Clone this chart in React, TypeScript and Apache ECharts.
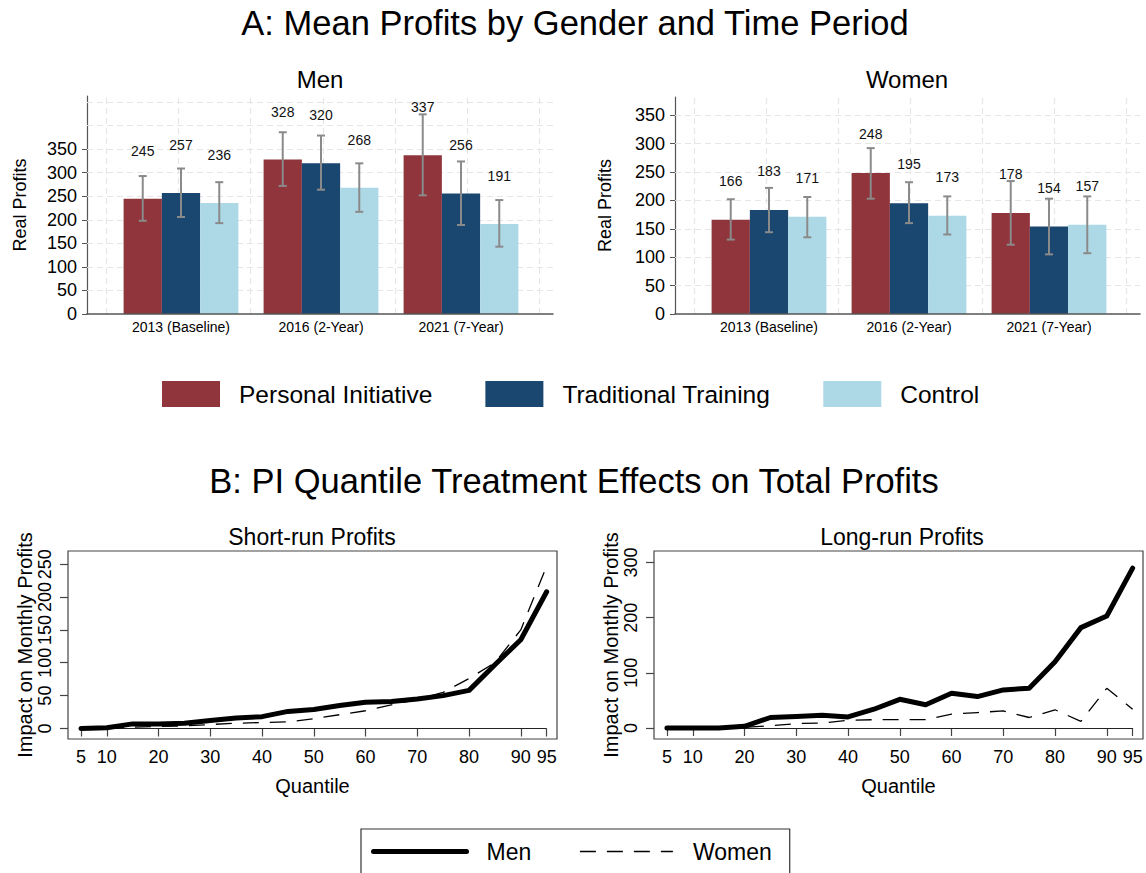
import { useEffect, useRef } from 'react';
import * as echarts from 'echarts';

const FONT = '"Liberation Sans", Arial, Helvetica, sans-serif';

// ---- Panel A data ----
const periods = ['2013 (Baseline)', '2016 (2-Year)', '2021 (7-Year)'];
const groups = ['Personal Initiative', 'Traditional Training', 'Control'];
const groupColors = ['#90353B', '#1A476F', '#ADD8E6'];

const menPI = [245, 328, 337];
const menTT = [257, 320, 256];
const menCtrl = [236, 268, 191];
const menPICI = [[198, 293], [272, 386], [252, 424]];
const menTTCI = [[206, 309], [264, 379], [189, 324]];
const menCtrlCI = [[193, 280], [217, 320], [143, 242]];

const womenPI = [166, 248, 178];
const womenTT = [183, 195, 154];
const womenCtrl = [171, 173, 157];
const womenPICI = [[131, 202], [203, 292], [122, 234]];
const womenTTCI = [[144, 222], [160, 232], [105, 203]];
const womenCtrlCI = [[135, 206], [140, 207], [107, 207]];

const barTicks = [0, 50, 100, 150, 200, 250, 300, 350];
const menGridLines = [50, 100, 150, 200, 250, 300, 350, 400, 450];
const womenGridLines = [50, 100, 150, 200, 250, 300, 350];
const vGridPct = [4.1, 19.6, 35.1, 50.6, 66.1, 81.6, 97.1];

// ---- Panel B data ----
const quantiles = [5, 10, 15, 20, 25, 30, 35, 40, 45, 50, 55, 60, 65, 70, 75, 80, 85, 90, 95];
const shortMen = [0, 1, 7, 7, 8, 12, 16, 18, 26, 29, 35, 40, 41, 45, 50, 58, 97, 135, 208];
const shortWomen = [0, 0, 2, 3, 4, 6, 8, 9, 10, 15, 21, 27, 36, 44, 55, 76, 100, 150, 247];
const longMen = [0, 0, 0, 3, 19, 21, 23, 20, 34, 52, 42, 63, 57, 69, 72, 120, 182, 203, 290];
const longWomen = [0, 0, 0, 1, 4, 8, 9, 14, 15, 15, 15, 25, 28, 31, 19, 33, 12, 72, 34];
const xTickValues = [5, 10, 20, 30, 40, 50, 60, 70, 80, 90, 95];
const shortTicks = [0, 50, 100, 150, 200, 250];
const longTicks = [0, 100, 200, 300];

const BAR_CAT_GAP = 0.18;

function errSeries(name: string, ci: number[][], gi: number, axisIdx: number) {
  return {
    type: 'custom',
    name,
    xAxisIndex: axisIdx,
    yAxisIndex: axisIdx,
    z: 5,
    silent: true,
    data: ci.map((c, i) => [i, c[0], c[1]]),
    encode: { x: 0, y: [1, 2] },
    renderItem: (params: any, api: any) => {
      const i = api.value(0);
      const lo = api.coord([i, api.value(1)]);
      const hi = api.coord([i, api.value(2)]);
      const band = api.size([1, 0])[0];
      const bw = (band * (1 - BAR_CAT_GAP)) / 3;
      const x = lo[0] + (gi - 1) * bw;
      const cap = 4;
      const style = { stroke: '#8a8a8a', lineWidth: 2 };
      return {
        type: 'group',
        children: [
          { type: 'line', shape: { x1: x, y1: lo[1], x2: x, y2: hi[1] }, style },
          { type: 'line', shape: { x1: x - cap, y1: hi[1], x2: x + cap, y2: hi[1] }, style },
          { type: 'line', shape: { x1: x - cap, y1: lo[1], x2: x + cap, y2: lo[1] }, style },
        ],
      };
    },
  };
}

function barSeries(name: string, data: number[], color: string, axisIdx: number, dist: number) {
  return {
    type: 'bar',
    name,
    xAxisIndex: axisIdx,
    yAxisIndex: axisIdx,
    data,
    barGap: '0%',
    barCategoryGap: '18%',
    z: 2,
    itemStyle: { color },
    label: {
      show: true,
      position: 'top',
      distance: dist,
      fontSize: 14,
      color: '#111',
      fontFamily: FONT,
    },
  };
}

function decoSeries(axisIdx: number, hLines: number[]) {
  return {
    type: 'line',
    xAxisIndex: axisIdx,
    yAxisIndex: axisIdx,
    data: [],
    silent: true,
    markLine: {
      z: 1,
      silent: true,
      symbol: ['none', 'none'],
      label: { show: false },
      lineStyle: { color: '#e6e6e6', type: [6, 4], width: 1.2 },
      data: [...hLines.map((v) => ({ yAxis: v })), ...vGridPct.map((v) => ({ xAxis: v }))],
    },
  };
}

function lineSeries(name: string, xs: number[], ys: number[], axisIdx: number, thick: boolean, zero: boolean) {
  const s: any = {
    type: 'line',
    name,
    xAxisIndex: axisIdx,
    yAxisIndex: axisIdx,
    data: xs.map((q, i) => [q, ys[i]]),
    symbol: 'none',
    showSymbol: false,
    z: 3,
    itemStyle: { color: '#000' },
    lineStyle: thick
      ? { color: '#000', width: 5, cap: 'round', join: 'round' }
      : { color: '#000', width: 1.3, type: [16, 11] },
  };
  if (zero) {
    s.markLine = {
      z: 1,
      silent: true,
      symbol: ['none', 'none'],
      label: { show: false },
      lineStyle: { color: '#222', width: 1.2, type: 'solid' },
      data: [[{ coord: [5, 0] }, { coord: [95, 0] }]],
    };
  }
  return s;
}

function decoYAxis(gridIndex: number, max: number, nameGap: number) {
  return {
    type: 'value',
    gridIndex,
    min: 0,
    max,
    axisLine: { show: true, lineStyle: { color: '#555', width: 1.2 } },
    axisTick: { show: true, length: 5, customValues: barTicks, lineStyle: { color: '#555' } },
    axisLabel: { customValues: barTicks, fontSize: 18, color: '#000', margin: 10, fontFamily: FONT },
    splitLine: { show: false },
    name: 'Real Profits',
    nameLocation: 'middle',
    nameGap,
    nameTextStyle: { fontSize: 18, color: '#000', fontFamily: FONT },
  };
}

function decoXAxis(gridIndex: number) {
  return {
    type: 'value',
    gridIndex,
    min: 0,
    max: 100,
    z: 10,
    axisLine: { show: true, onZero: false, lineStyle: { color: '#555', width: 1.5 } },
    axisTick: { show: false },
    axisLabel: { show: false },
    splitLine: { show: false },
  };
}

function catXAxis(gridIndex: number) {
  return {
    type: 'category',
    gridIndex,
    data: periods,
    axisLine: { show: false },
    axisTick: { show: false },
    axisLabel: { fontSize: 14, color: '#000', margin: 6, fontFamily: FONT },
  };
}

function hiddenY(gridIndex: number, max: number) {
  return { type: 'value', gridIndex, min: 0, max, show: false };
}

function qXAxis(gridIndex: number) {
  return {
    type: 'value',
    gridIndex,
    min: 2.5,
    max: 97,
    axisLine: { show: false },
    axisTick: { show: true, length: 8, customValues: xTickValues, lineStyle: { color: '#444', width: 1.2 } },
    axisLabel: { customValues: xTickValues, fontSize: 18, color: '#000', margin: 9, fontFamily: FONT },
    splitLine: { show: false },
    name: 'Quantile',
    nameLocation: 'middle',
    nameGap: 37,
    nameTextStyle: { fontSize: 20, color: '#000', fontFamily: FONT },
  };
}

function qYAxis(gridIndex: number, min: number, max: number, ticks: number[]) {
  return {
    type: 'value',
    gridIndex,
    min,
    max,
    axisLine: { show: false },
    axisTick: { show: true, length: 8, customValues: ticks, lineStyle: { color: '#444', width: 1.2 } },
    axisLabel: { customValues: ticks, fontSize: 18, color: '#000', margin: 14, rotate: 90, fontFamily: FONT },
    splitLine: { show: false },
    name: 'Impact on Monthly Profits',
    nameLocation: 'middle',
    nameGap: 31,
    nameTextStyle: { fontSize: 20, color: '#000', fontFamily: FONT },
  };
}

function titleText(text: string, x: number, y: number, size: number) {
  return {
    type: 'text',
    x,
    y,
    silent: true,
    style: { text, fill: '#000', font: `${size}px ${FONT}`, align: 'center', verticalAlign: 'middle' },
  };
}

const option: any = {
  animation: false,
  backgroundColor: '#fff',
  textStyle: { fontFamily: FONT },
  graphic: [
    titleText('A: Mean Profits by Gender and Time Period', 575, 23, 34.5),
    titleText('Men', 320, 79, 24),
    titleText('Women', 907, 79, 24),
    titleText('B: PI Quantile Treatment Effects on Total Profits', 574, 481, 34.5),
    titleText('Short-run Profits', 312, 537, 23),
    titleText('Long-run Profits', 902, 537, 23),
  ],
  legend: [
    {
      data: groups,
      left: 162,
      top: 381,
      orient: 'horizontal',
      icon: 'rect',
      itemWidth: 58,
      itemHeight: 26,
      itemGap: 53,
      padding: 0,
      selectedMode: false,
      textStyle: { fontSize: 24.5, color: '#000', padding: [0, 0, 0, 14], fontFamily: FONT },
    },
    {
      data: ['Men', 'Women'],
      left: 361,
      top: 829,
      orient: 'horizontal',
      itemWidth: 93,
      itemHeight: 22,
      itemGap: 48,
      padding: [11, 18, 11, 10],
      borderColor: '#333',
      borderWidth: 1.2,
      selectedMode: false,
      itemStyle: { opacity: 0 },
      lineStyle: { width: 'inherit' },
      textStyle: { fontSize: 23, color: '#000', padding: [0, 0, 0, 15], fontFamily: FONT },
    },
  ],
  grid: [
    { left: 87, top: 96, width: 466, height: 218, outerBoundsMode: 'none' },
    { left: 111, top: 96, width: 420, height: 218, outerBoundsMode: 'none' },
    { left: 675, top: 97, width: 465, height: 217, outerBoundsMode: 'none' },
    { left: 699, top: 97, width: 420, height: 217, outerBoundsMode: 'none' },
    { left: 68, top: 551, width: 489, height: 188, show: true, borderColor: '#444', borderWidth: 1.2, outerBoundsMode: 'none' },
    { left: 654, top: 551, width: 489, height: 188, show: true, borderColor: '#444', borderWidth: 1.2, outerBoundsMode: 'none' },
  ],
  xAxis: [decoXAxis(0), catXAxis(1), decoXAxis(2), catXAxis(3), qXAxis(4), qXAxis(5)],
  yAxis: [
    decoYAxis(0, 463, 58),
    hiddenY(1, 463),
    decoYAxis(2, 382, 61),
    hiddenY(3, 382),
    qYAxis(4, -16, 270, shortTicks),
    qYAxis(5, -20, 321, longTicks),
  ],
  series: [
    decoSeries(0, menGridLines),
    barSeries(groups[0], menPI, groupColors[0], 1, 41),
    barSeries(groups[1], menTT, groupColors[1], 1, 41),
    barSeries(groups[2], menCtrl, groupColors[2], 1, 41),
    errSeries('Men PI CI', menPICI, 0, 1),
    errSeries('Men TT CI', menTTCI, 1, 1),
    errSeries('Men Control CI', menCtrlCI, 2, 1),
    decoSeries(2, womenGridLines),
    barSeries(groups[0], womenPI, groupColors[0], 3, 32),
    barSeries(groups[1], womenTT, groupColors[1], 3, 32),
    barSeries(groups[2], womenCtrl, groupColors[2], 3, 32),
    errSeries('Women PI CI', womenPICI, 0, 3),
    errSeries('Women TT CI', womenTTCI, 1, 3),
    errSeries('Women Control CI', womenCtrlCI, 2, 3),
    lineSeries('Men', quantiles, shortMen, 4, true, true),
    lineSeries('Women', quantiles, shortWomen, 4, false, false),
    lineSeries('Men', quantiles, longMen, 5, true, true),
    lineSeries('Women', quantiles, longWomen, 5, false, false),
  ],
};

export default function App() {
  const ref = useRef<HTMLDivElement>(null);
  useEffect(() => {
    if (!ref.current) return;
    const chart = echarts.init(ref.current, null, { renderer: 'svg' });
    chart.setOption(option);
    return () => chart.dispose();
  }, []);
  return (
    <div
      ref={ref}
      style={{ position: 'fixed', left: 0, top: 0, width: 1146, height: 873, background: '#fff' }}
    />
  );
}
